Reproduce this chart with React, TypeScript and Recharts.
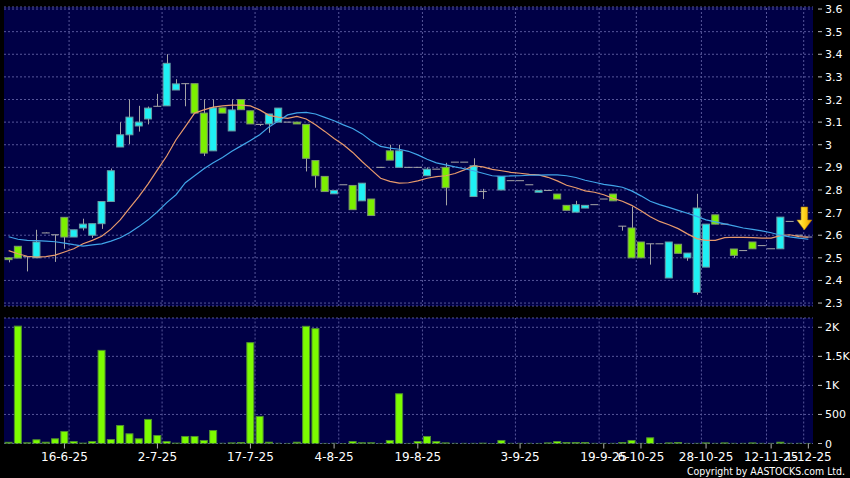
import React from "react";
import { ComposedChart, Bar, Line, XAxis, YAxis, CartesianGrid, ReferenceLine, ReferenceDot } from "recharts";

// daily candles, one slot per trading session (null = no candle)
const opens = [
  2.5, 2.551, 2.505, 2.5, 2.61, 2.602, 2.679, 2.592, 2.632, 2.6,
  2.651, 2.749, 2.99, 3.044, 3.083, 3.114, 3.17, 3.172, 3.242, 3.27,
  3.27, 3.14, 2.973, 3.163, 3.061, 3.2, 3.15, 3.09, 3.092, 3.1,
  3.1, 3.1, 3.09, 2.93, 2.86, 2.783, 2.823, 2.82, 2.752, 2.76,
  2.9, 2.973, 2.9, 2.9, 2.9, 2.863, 2.892, 2.9, 2.923, 2.923,
  2.771, 2.793, null, 2.8, 2.841, 2.841, 2.823, 2.79, 2.798, 2.782,
  2.732, 2.702, 2.72, 2.735, 2.76, 2.782, 2.64, 2.632, 2.57, 2.562,
  2.562, 2.411, 2.56, 2.5, 2.347, 2.459, 2.69, 2.649, 2.539, 2.532,
  2.57, 2.554, 2.54, 2.54, 2.661, 2.6, 2.592,
];
const highs = [
  2.5, 2.551, 2.505, 2.624, 2.612, 2.602, 2.679, 2.624, 2.673, 2.651,
  2.749, 2.895, 3.1, 3.2, 3.172, 3.169, 3.225, 3.4, 3.29, 3.27,
  3.27, 3.2, 3.2, 3.163, 3.2, 3.2, 3.15, 3.09, 3.136, 3.162,
  3.1, 3.1, 3.09, 2.93, 2.86, 2.798, 2.823, 2.82, 2.83, 2.76,
  2.9, 3.0, 3.0, 2.9, 2.9, 2.9, 2.892, 2.92, 2.923, 2.923,
  2.94, 2.805, null, 2.86, 2.841, 2.841, 2.823, 2.798, 2.798, 2.782,
  2.732, 2.752, 2.732, 2.735, 2.76, 2.782, 2.64, 2.727, 2.57, 2.562,
  2.562, 2.57, 2.56, 2.521, 2.783, 2.649, 2.69, 2.649, 2.539, 2.532,
  2.57, 2.554, 2.54, 2.68, 2.661, 2.6, 2.592,
];
const lows = [
  2.48, 2.499, 2.44, 2.5, 2.61, 2.482, 2.54, 2.592, 2.621, 2.588,
  2.628, 2.749, 2.99, 3.003, 3.058, 3.09, 3.17, 3.172, 3.242, 3.17,
  3.14, 2.95, 2.973, 3.14, 3.061, 3.155, 3.092, 3.083, 3.053, 3.1,
  3.1, 3.092, 2.882, 2.81, 2.793, 2.783, 2.823, 2.713, 2.752, 2.687,
  2.9, 2.932, 2.9, 2.9, 2.9, 2.863, 2.892, 2.732, 2.923, 2.923,
  2.771, 2.76, null, 2.8, 2.841, 2.841, 2.823, 2.79, 2.798, 2.76,
  2.71, 2.702, 2.72, 2.735, 2.76, 2.752, 2.62, 2.5, 2.5, 2.47,
  2.562, 2.411, 2.52, 2.487, 2.337, 2.459, 2.649, 2.649, 2.5, 2.532,
  2.54, 2.554, 2.54, 2.54, 2.661, 2.6, 2.592,
];
const closes = [
  2.492, 2.499, 2.505, 2.57, 2.61, 2.602, 2.592, 2.624, 2.649, 2.651,
  2.749, 2.885, 3.044, 3.122, 3.1, 3.162, 3.17, 3.36, 3.269, 3.27,
  3.14, 2.963, 3.163, 3.14, 3.154, 3.155, 3.092, 3.09, 3.136, 3.162,
  3.1, 3.092, 2.94, 2.863, 2.793, 2.798, 2.823, 2.713, 2.83, 2.687,
  2.9, 2.932, 2.973, 2.9, 2.9, 2.892, 2.892, 2.81, 2.923, 2.923,
  2.907, 2.793, null, 2.86, 2.841, 2.841, 2.823, 2.798, 2.798, 2.76,
  2.71, 2.735, 2.732, 2.735, 2.76, 2.752, 2.64, 2.5, 2.5, 2.562,
  2.562, 2.57, 2.52, 2.521, 2.72, 2.649, 2.649, 2.649, 2.511, 2.532,
  2.54, 2.554, 2.54, 2.68, 2.661, 2.6, 2.592,
];
const volumes = [
  20, 2020, 12, 64, 22, 81, 207, 34, 6, 34,
  1603, 69, 310, 167, 81, 414, 138, 34, 6, 121,
  121, 52, 224, 3, 10, 17, 1736, 466, 22, 3,
  1, 22, 2017, 1977, 1, 3, 0, 34, 12, 12,
  1, 52, 856, 1, 34, 121, 34, 10, 2, 2,
  2, 5, 0, 52, 2, 2, 2, 1, 10, 34,
  17, 17, 17, 2, 2, 2, 17, 52, 2, 98,
  0, 10, 17, 2, 2, 10, 2, 10, 2, 2,
  10, 2, 2, 22, 2, 2, 1,
];
// moving averages
const maShort = [
  2.532, 2.518, 2.507, 2.503, 2.505, 2.512, 2.526, 2.54, 2.562, 2.577,
  2.595, 2.627, 2.668, 2.72, 2.771, 2.827, 2.889, 2.95, 3.022, 3.08,
  3.14, 3.154, 3.166, 3.172, 3.175, 3.175, 3.172, 3.154, 3.13, 3.122,
  3.117, 3.125, 3.114, 3.088, 3.059, 3.028, 3.0, 2.966, 2.926, 2.889,
  2.852, 2.838, 2.83, 2.832, 2.84, 2.852, 2.859, 2.863, 2.873, 2.889,
  2.907, 2.902, 2.891, 2.885, 2.878, 2.874, 2.869, 2.867, 2.856, 2.84,
  2.821, 2.81, 2.796, 2.79, 2.779, 2.763, 2.75, 2.732, 2.708, 2.682,
  2.661, 2.646, 2.629, 2.606, 2.585, 2.577, 2.577, 2.589, 2.591, 2.59,
  2.589, 2.587, 2.587, 2.598, 2.602, 2.594, 2.591,
];
const maLong = [
  2.593, 2.582, 2.577, 2.576, 2.574, 2.571, 2.565, 2.558, 2.552, 2.557,
  2.562, 2.574, 2.589, 2.611, 2.638, 2.668, 2.704, 2.744, 2.779, 2.832,
  2.863, 2.894, 2.92, 2.944, 2.971, 2.995, 3.019, 3.044, 3.079, 3.105,
  3.132, 3.141, 3.143, 3.136, 3.121, 3.106, 3.088, 3.072, 3.048, 3.017,
  2.993, 2.985, 2.98, 2.971, 2.955, 2.936, 2.92, 2.911, 2.902, 2.894,
  2.885, 2.874, 2.863, 2.86, 2.862, 2.863, 2.865, 2.866, 2.867, 2.867,
  2.863, 2.855, 2.843, 2.834, 2.825, 2.819, 2.812, 2.796, 2.774, 2.75,
  2.735, 2.723, 2.71, 2.697, 2.683, 2.668, 2.659, 2.65, 2.641, 2.632,
  2.626, 2.619, 2.611, 2.6, 2.593, 2.587, 2.582,
];

const tickSlots = [6, 16, 26, 35, 44, 55, 64, 68, 75, 82, 86];
const tickLabels = ["16-6-25", "2-7-25", "17-7-25", "4-8-25", "19-8-25", "3-9-25", "19-9-25", "6-10-25", "28-10-25", "12-11-25", "1-12-25"];
const gridSlots = [6, 16, 26, 35, 44, 54, 63, 67, 74, 81, 85];
const priceTicks = [2.3, 2.4, 2.5, 2.6, 2.7, 2.8, 2.9, 3, 3.1, 3.2, 3.3, 3.4, 3.5, 3.6];
const volTicks = [0, 500, 1000, 1500, 2000];
const volLabels = ["0", "500", "1K", "1.5K", "2K"];
const lastPrice = 2.674;

const data = opens.map((o, i) => ({
  i,
  o,
  h: highs[i],
  l: lows[i],
  c: closes[i],
  range: o == null ? null : [lows[i], highs[i]],
  v: volumes[i],
  ma1: maShort[i],
  ma2: maLong[i],
}));

const NAVY = "#000046";
const GRID = "#56569a";
const UP = "#1ff0f4";
const DOWN = "#7cf000";

const Candle = (props: any) => {
  const { x, y, width, height, payload } = props;
  if (payload == null || payload.o == null) return null;
  const top = Math.min(y, y + height);
  const bottom = Math.max(y, y + height);
  const span = payload.h - payload.l;
  const py = (v: number) => (span > 0 ? top + ((payload.h - v) / span) * (bottom - top) : top);
  const cx = Math.round(x + width / 2) + 0.5;
  const bTop = py(Math.max(payload.o, payload.c));
  const bBot = py(Math.min(payload.o, payload.c));
  const wick = span > 0 ? <line x1={cx} x2={cx} y1={top} y2={bottom} stroke="#a4a4a4" /> : null;
  if (payload.o === payload.c) {
    return (
      <g>
        {wick}
        <line x1={x} x2={x + width} y1={bTop} y2={bTop} stroke="#a8a8a8" />
      </g>
    );
  }
  const up = payload.c > payload.o;
  return (
    <g>
      {wick}
      <rect
        x={x + 0.5}
        y={bTop}
        width={width - 1}
        height={Math.max(bBot - bTop, 1)}
        fill={up ? UP : DOWN}
        stroke={up ? "#6a9ea4" : "#7e9a6a"}
      />
    </g>
  );
};

const VolBar = (props: any) => {
  const { x, y, width, height } = props;
  if (!height || height < 0.2) return <line x1={x + 1} x2={x + width - 1} y1={y} y2={y} stroke="#4f8f2f" />;
  return <rect x={x + 0.5} y={y} width={width - 1} height={height} fill="#7cfc00" stroke="#4f8f2f" />;
};

const SideTick = (props: any) => {
  const { x, y, payload, labels, values } = props;
  const idx = values ? values.indexOf(payload.value) : -1;
  const text = idx >= 0 ? labels[idx] : String(payload.value);
  return (
    <g>
      <line x1={x + 5} x2={x + 9} y1={y} y2={y} stroke="#c0c0c0" />
      <text x={x + 12} y={y} dy={4} fill="#ffffff" fontSize={11}>
        {text}
      </text>
    </g>
  );
};

const Arrow = (props: any) => {
  const { cx, cy } = props;
  const ax = cx - 4;
  return (
    <g>
      <defs>
        <linearGradient id="arrowFill" x1="0" x2="1" y1="0" y2="0">
          <stop offset="0" stopColor="#fff06a" />
          <stop offset="0.5" stopColor="#ffd21a" />
          <stop offset="1" stopColor="#e89a00" />
        </linearGradient>
      </defs>
      <path
        d={`M${ax - 3.3},${cy - 11.5} h6.6 v13 h4.2 l-7.5,10 l-7.5,-10 h4.2 z`}
        fill="url(#arrowFill)"
        stroke="#b07a00"
        strokeWidth={0.6}
      />
    </g>
  );
};

const labelOf = (v: number) => {
  const k = tickSlots.indexOf(v);
  return k >= 0 ? tickLabels[k] : "";
};

export default function App() {
  return (
    <div
      style={{
        position: "absolute",
        left: 0,
        top: 0,
        width: 850,
        height: 478,
        background: "#000",
        fontFamily: "'DejaVu Sans', sans-serif",
      }}
    >
      <ComposedChart width={850} height={312} data={data} margin={{ top: 7, right: 0, bottom: 6, left: 4 }} barCategoryGap="6%">
        <CartesianGrid fill={NAVY} stroke={GRID} strokeDasharray="2 2" vertical={false} />
        <XAxis dataKey="i" type="category" hide />
        <YAxis
          orientation="right"
          width={37}
          domain={[2.287, 3.609]}
          ticks={priceTicks}
          allowDataOverflow
          axisLine={false}
          tickLine={false}
          tickSize={0}
          tickMargin={0}
          interval={0}
          tick={<SideTick />}
        />
        {gridSlots.map((g) => (
          <ReferenceLine key={g} x={g} position="end" stroke={GRID} strokeDasharray="2 2" />
        ))}
        <Bar dataKey="range" shape={<Candle />} isAnimationActive={false} />
        <Line dataKey="ma1" type="linear" stroke="#e89a6c" strokeWidth={1.2} dot={false} isAnimationActive={false} />
        <Line dataKey="ma2" type="linear" stroke="#40a4e8" strokeWidth={1.2} dot={false} isAnimationActive={false} />
        <ReferenceDot x={86} y={lastPrice} shape={<Arrow />} />
      </ComposedChart>
      <ComposedChart width={850} height={166} data={data} margin={{ top: 6, right: 0, bottom: 0, left: 4 }} barCategoryGap="6%">
        <CartesianGrid fill={NAVY} stroke={GRID} strokeDasharray="2 2" vertical={false} />
        <XAxis
          dataKey="i"
          type="category"
          ticks={tickSlots}
          interval={0}
          tickFormatter={labelOf}
          height={34.5}
          axisLine={false}
          tickSize={5}
          tickMargin={4}
          tickLine={{ stroke: "#b0b0b0" }}
          tick={{ fill: "#ffffff", fontSize: 12 }}
        />
        <YAxis
          orientation="right"
          width={37}
          domain={[0, 2160]}
          ticks={volTicks}
          allowDataOverflow
          axisLine={false}
          tickLine={false}
          tickSize={0}
          tickMargin={0}
          interval={0}
          tick={<SideTick labels={volLabels} values={volTicks} />}
        />
        {gridSlots.map((g) => (
          <ReferenceLine key={g} x={g} position="end" stroke={GRID} strokeDasharray="2 2" />
        ))}
        <Bar dataKey="v" shape={<VolBar />} isAnimationActive={false} />
      </ComposedChart>
      <svg width={850} height={478} style={{ position: "absolute", left: 0, top: 0, pointerEvents: "none" }}>
        <text x={845} y={475} textAnchor="end" fill="#ffffff" fontSize={10.5} textLength={158} lengthAdjust="spacingAndGlyphs">
          Copyright by AASTOCKS.com Ltd.
        </text>
      </svg>
    </div>
  );
}
